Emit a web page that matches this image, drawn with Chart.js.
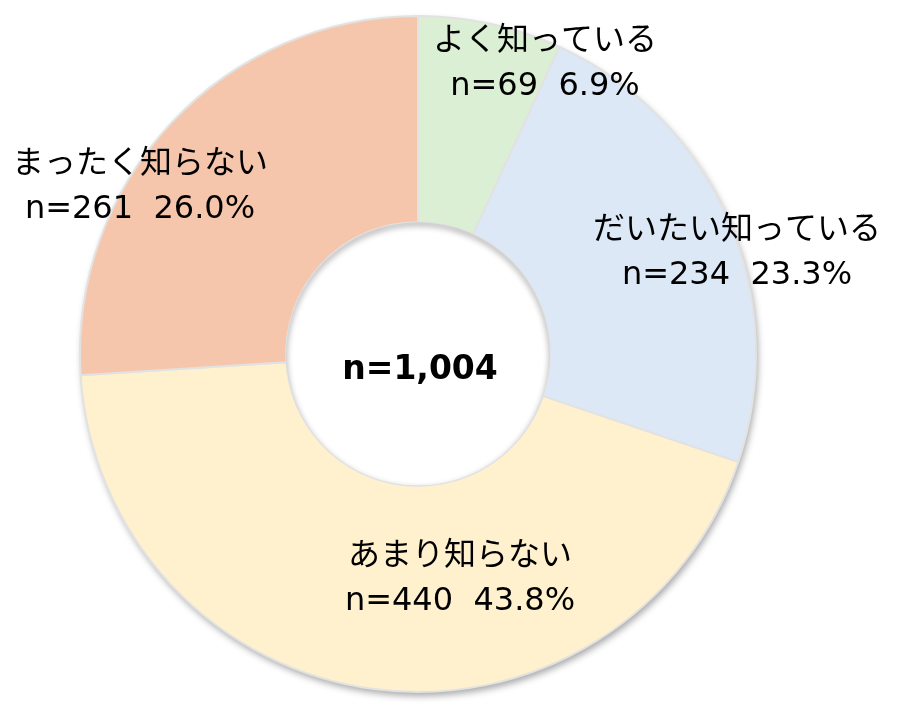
<!DOCTYPE html>
<html>
<head>
<meta charset="utf-8">
<script src="https://cdn.jsdelivr.net/npm/chart.js@4"></script>
<style>
    html, body { margin: 0; padding: 0; background: #ffffff; }
    #wrap { width: 900px; height: 710px; }
</style>
</head>
<body>
<div id="wrap"><canvas id="chartConocimiento" width="900" height="710"></canvas></div>
<script>
// datos
const categorias = ['よく知っている', 'だいたい知っている', 'あまり知らない', 'まったく知らない'];
const cantidades = [69, 234, 440, 261];
const porcentajes = ['6.9%', '23.3%', '43.8%', '26.0%'];
const totalTexto = 'n=1,004';

const colores = ['#dbefd4', '#dde8f6', '#fff1cd', '#f6c6ac'];
// posicion de etiquetas relativa al centro (px)
const posEtiquetas = [[127, -290], [319, -101], [42, 225], [-278, -167]];

const fuente = '"DejaVu Sans", "Noto Sans CJK JP", sans-serif';

const sombra = {
    id: 'sombra',
    beforeDatasetsDraw(chart) {
        const arc = chart.getDatasetMeta(0).data[0];
        const ctx = chart.ctx;
        ctx.save();
        ctx.shadowColor = 'rgba(0,0,0,0.35)';
        ctx.shadowBlur = 7;
        ctx.shadowOffsetX = 2;
        ctx.shadowOffsetY = 4;
        ctx.fillStyle = '#dddddd';
        ctx.beginPath();
        ctx.arc(arc.x, arc.y, arc.outerRadius, 0, Math.PI * 2);
        ctx.fill();
        ctx.restore();
    }
};

const etiquetas = {
    id: 'etiquetas',
    afterDatasetsDraw(chart) {
        const ctx = chart.ctx;
        const arc = chart.getDatasetMeta(0).data[0];
        const cx = arc.x, cy = arc.y;
        // agujero blanco con sombra interior
        ctx.save();
        ctx.beginPath();
        ctx.arc(cx, cy, arc.innerRadius, 0, Math.PI * 2);
        ctx.clip();
        ctx.fillStyle = '#ffffff';
        ctx.fillRect(cx - arc.innerRadius, cy - arc.innerRadius, arc.innerRadius * 2, arc.innerRadius * 2);
        ctx.shadowColor = 'rgba(0,0,0,0.4)';
        ctx.shadowBlur = 6;
        ctx.shadowOffsetY = 3;
        ctx.strokeStyle = '#d4d4d4';
        ctx.lineWidth = 4;
        ctx.beginPath();
        ctx.arc(cx, cy, arc.innerRadius + 2, 0, Math.PI * 2);
        ctx.stroke();
        ctx.restore();

        ctx.save();
        ctx.fillStyle = '#000000';
        ctx.textAlign = 'center';
        ctx.textBaseline = 'middle';
        ctx.font = '32px ' + fuente;
        categorias.forEach(function (c, i) {
            const x = cx + posEtiquetas[i][0];
            const y = cy + posEtiquetas[i][1];
            ctx.fillText(c, x, y - 22);
            ctx.fillText('n=' + cantidades[i] + '  ' + porcentajes[i], x, y + 23);
        });
        ctx.font = 'bold 33px ' + fuente;
        ctx.fillText(totalTexto, cx + 2, cy + 16);
        ctx.restore();
    }
};

var ctx = document.getElementById('chartConocimiento').getContext('2d');
var myChart = new Chart(ctx, {
    type: 'doughnut',
    data: {
        labels: categorias,
        datasets: [{
            data: cantidades,
            backgroundColor: colores,
            borderColor: '#e2e2e2',
            borderWidth: 2
        }]
    },
    options: {
        responsive: false,
        animation: false,
        cutout: '39%',
        layout: {
            padding: { left: 79, right: 143, top: 15, bottom: 17 }
        },
        plugins: {
            legend: { display: false },
            tooltip: { enabled: false }
        }
    },
    plugins: [sombra, etiquetas]
});
</script>
</body>
</html>
